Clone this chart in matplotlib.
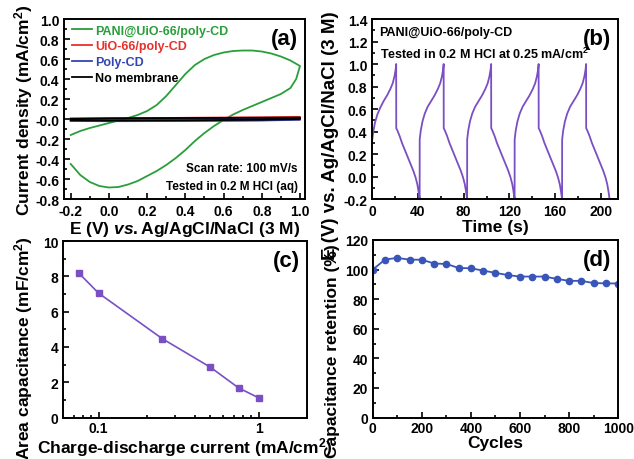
import numpy as np
import matplotlib
matplotlib.use("Agg")
import matplotlib.pyplot as plt
from matplotlib.ticker import AutoMinorLocator, FixedLocator, FixedFormatter

plt.rcParams['font.family'] = ['Liberation Sans', 'DejaVu Sans']
plt.rcParams['font.weight'] = 'bold'
plt.rcParams['axes.labelweight'] = 'bold'
plt.rcParams['axes.unicode_minus'] = False
plt.rcParams['mathtext.fontset'] = 'custom'
plt.rcParams['mathtext.rm'] = 'Liberation Sans:bold'
plt.rcParams['mathtext.bf'] = 'Liberation Sans:bold'
plt.rcParams['mathtext.it'] = 'Liberation Sans:bold:italic'

GREEN = '#2a9e3c'
RED = '#e8302a'
BLUE = '#3346b0'
PURPLE = '#7a4fc4'
DBLUE = '#3a55b8'

# (a) cyclic voltammetry, anodic sweep then cathodic sweep
cv_e = [-0.20, -0.15, -0.10, -0.05, 0.00, 0.05, 0.10, 0.15, 0.20, 0.25, 0.30, 0.35,
        0.40, 0.45, 0.50, 0.55, 0.60, 0.65, 0.70, 0.75, 0.80, 0.85, 0.90, 0.95, 1.00,
        0.98, 0.95, 0.90, 0.85, 0.80, 0.75, 0.70, 0.65, 0.60, 0.55, 0.50, 0.45, 0.40,
        0.35, 0.30, 0.25, 0.20, 0.15, 0.10, 0.05, 0.00, -0.05, -0.10, -0.15, -0.20]
cv_pani = [-0.16, -0.12, -0.09, -0.065, -0.04, -0.015, 0.01, 0.04, 0.08, 0.14, 0.23, 0.34,
           0.45, 0.54, 0.60, 0.64, 0.665, 0.68, 0.685, 0.685, 0.675, 0.655, 0.625, 0.585, 0.53,
           0.40, 0.31, 0.25, 0.21, 0.17, 0.13, 0.09, 0.045, -0.01, -0.07, -0.14, -0.22, -0.31,
           -0.39, -0.46, -0.52, -0.57, -0.62, -0.655, -0.68, -0.685, -0.67, -0.63, -0.56, -0.45]
cv_e_small = [-0.20, 0.00, 0.40, 0.80, 1.00, 1.00, 0.80, 0.40, 0.00, -0.20]
cv_uio = [0.000, 0.005, 0.012, 0.018, 0.022, -0.005, -0.012, -0.018, -0.020, -0.015]
cv_poly = [-0.005, 0.000, 0.003, 0.006, 0.008, -0.008, -0.015, -0.020, -0.022, -0.020]
cv_none = [0.005, 0.008, 0.010, 0.012, 0.014, 0.000, -0.008, -0.012, -0.015, -0.012]

# (b) galvanostatic charge-discharge
gcd_t = [0, 1, 2.5, 4.5, 7, 10, 13, 16, 18, 19.5, 20.5, 21,
         21.05, 22, 24, 26, 28, 30, 32, 34, 36, 38, 39.5, 40.5, 41.5,
         41.55, 42.5, 44, 46, 48.5, 51.5, 54.5, 57.5, 59.5, 61, 62, 62.5,
         62.55, 63.5, 65.5, 67.5, 69.5, 71.5, 73.5, 75.5, 77.5, 79.5, 81, 82, 83,
         83.05, 84, 85.5, 87.5, 90, 93, 96, 99, 101, 102.5, 103.5, 104,
         104.05, 105, 107, 109, 111, 113, 115, 117, 119, 121, 122.5, 123.5, 124.5,
         124.55, 125.5, 127, 129, 131.5, 134.5, 137.5, 140.5, 142.5, 144, 145, 145.5,
         145.55, 146.5, 148.5, 150.5, 152.5, 154.5, 156.5, 158.5, 160.5, 162.5, 164, 165, 166,
         166.05, 167, 168.5, 170.5, 173, 176, 179, 182, 184, 185.5, 186.5, 187,
         187.05, 188, 190, 192, 194, 196, 198, 200, 202, 204, 205.5, 206.5, 207.5, 215]
gcd_v = [0.32, 0.40, 0.48, 0.55, 0.61, 0.67, 0.72, 0.78, 0.83, 0.89, 0.95, 1.00,
         0.43, 0.41, 0.36, 0.30, 0.25, 0.20, 0.15, 0.10, 0.05, -0.01, -0.07, -0.13, -0.20,
         0.33, 0.41, 0.49, 0.56, 0.62, 0.67, 0.72, 0.78, 0.83, 0.89, 0.95, 1.00,
         0.43, 0.41, 0.36, 0.30, 0.25, 0.20, 0.15, 0.10, 0.05, -0.01, -0.07, -0.13, -0.20,
         0.33, 0.41, 0.49, 0.56, 0.62, 0.67, 0.72, 0.78, 0.83, 0.89, 0.95, 1.00,
         0.43, 0.41, 0.36, 0.30, 0.25, 0.20, 0.15, 0.10, 0.05, -0.01, -0.07, -0.13, -0.20,
         0.33, 0.41, 0.49, 0.56, 0.62, 0.67, 0.72, 0.78, 0.83, 0.89, 0.95, 1.00,
         0.43, 0.41, 0.36, 0.30, 0.25, 0.20, 0.15, 0.10, 0.05, -0.01, -0.07, -0.13, -0.20,
         0.33, 0.41, 0.49, 0.56, 0.62, 0.67, 0.72, 0.78, 0.83, 0.89, 0.95, 1.00,
         0.43, 0.41, 0.36, 0.30, 0.25, 0.20, 0.15, 0.10, 0.05, -0.01, -0.07, -0.13, -0.20, -0.20]

# (c) areal capacitance vs current
cur = [0.075, 0.1, 0.25, 0.5, 0.75, 1.0]
cap = [8.2, 7.05, 4.47, 2.85, 1.68, 1.12]

# (d) cycling stability
cycles = [0, 50, 100, 150, 200, 250, 300, 350, 400, 450, 500,
          550, 600, 650, 700, 750, 800, 850, 900, 950, 1000]
retention = [100, 106.8, 107.9, 106.7, 106.7, 104.1, 103.8, 101.1, 100.9, 99.3, 97.8,
             96.3, 95.3, 95.3, 95.3, 93.7, 92.4, 92.4, 90.9, 90.7, 90.6]

LABEL_FS = 12.5

fig = plt.figure(figsize=(6.34, 4.60), dpi=100)
ax_a = fig.add_axes([0.101, 0.5652, 0.380, 0.3913])
ax_b = fig.add_axes([0.587, 0.5652, 0.388, 0.3913])
ax_c = fig.add_axes([0.0994, 0.090, 0.3846, 0.3839])
ax_d = fig.add_axes([0.588, 0.090, 0.387, 0.3861])


def style(ax, minor_x=True):
    for s in ax.spines.values():
        s.set_linewidth(1.4)
    ax.tick_params(which='both', direction='in', top=False, right=False,
                   labelsize=10, width=1.2)
    ax.tick_params(which='major', length=4)
    ax.tick_params(which='minor', length=2.5)
    if minor_x:
        ax.xaxis.set_minor_locator(AutoMinorLocator(2))
    ax.yaxis.set_minor_locator(AutoMinorLocator(2))


def panel(ax, label):
    ax.text(0.97, 0.95, label, transform=ax.transAxes, ha='right', va='top',
            fontsize=16, fontweight='bold')


# (a)
ax_a.plot(cv_e, cv_pani, color=GREEN, lw=1.3, label='PANI@UiO-66/poly-CD')
ax_a.plot(cv_e_small, cv_uio, color=RED, lw=1.3, label='UiO-66/poly-CD')
ax_a.plot(cv_e_small, cv_poly, color=BLUE, lw=1.3, label='Poly-CD')
ax_a.plot(cv_e_small, cv_none, color='black', lw=1.3, label='No membrane')
ax_a.set_xlim(-0.235, 1.026)
ax_a.set_ylim(-0.8, 1.0)
ax_a.set_xticks(np.arange(-0.2, 1.01, 0.2))
ax_a.set_yticks(np.arange(-0.8, 1.01, 0.2))
ax_a.xaxis.set_major_formatter(matplotlib.ticker.FormatStrFormatter('%.1f'))
ax_a.yaxis.set_major_formatter(matplotlib.ticker.FormatStrFormatter('%.1f'))
style(ax_a)
leg = ax_a.legend(loc='upper left', frameon=False, fontsize=9, handlelength=1.6,
                  borderaxespad=0.2, labelspacing=0.3, handletextpad=0.3,
                  bbox_to_anchor=(0.0, 1.01))
for txt, c in zip(leg.get_texts(), [GREEN, RED, BLUE, 'black']):
    txt.set_color(c)
ax_a.text(0.97, 0.17, 'Scan rate: 100 mV/s', transform=ax_a.transAxes,
          ha='right', va='center', fontsize=8.5)
ax_a.text(0.97, 0.07, 'Tested in 0.2 M HCl (aq)', transform=ax_a.transAxes,
          ha='right', va='center', fontsize=8.5)
panel(ax_a, '(a)')
ax_a.set_xlabel(r'E (V) $\mathit{vs.}$Ag/AgCl/NaCl (3 M)', fontsize=LABEL_FS, labelpad=1)
ax_a.set_ylabel(r'Current density (mA/cm$^2$)', fontsize=LABEL_FS, labelpad=0)

# (b)
ax_b.plot(gcd_t, gcd_v, color=PURPLE, lw=1.3)
ax_b.set_xlim(0, 215)
ax_b.set_ylim(-0.2, 1.4)
ax_b.set_xticks(np.arange(0, 201, 40))
ax_b.set_yticks(np.arange(-0.2, 1.41, 0.2))
ax_b.yaxis.set_major_formatter(matplotlib.ticker.FormatStrFormatter('%.1f'))
style(ax_b)
ax_b.text(0.03, 0.93, 'PANI@UiO-66/poly-CD', transform=ax_b.transAxes,
          ha='left', va='center', fontsize=9)
ax_b.text(0.03, 0.81, r'Tested in 0.2 M HCl at 0.25 mA/cm$^2$', transform=ax_b.transAxes,
          ha='left', va='center', fontsize=9)
panel(ax_b, '(b)')
ax_b.set_xlabel('Time (s)', fontsize=LABEL_FS, labelpad=1)
ax_b.set_ylabel('E (V) vs. Ag/AgCl/NaCl (3 M)', fontsize=13.5)
ax_b.yaxis.set_label_coords(-0.135, 0.36)

# (c)
ax_c.plot(cur, cap, color=PURPLE, lw=1.2, marker='s', ms=4.5)
ax_c.set_xscale('log')
ax_c.set_xlim(0.06, 2.0)
ax_c.set_ylim(0, 10)
ax_c.set_yticks(np.arange(0, 11, 2))
ax_c.xaxis.set_major_locator(FixedLocator([0.1, 1]))
ax_c.xaxis.set_major_formatter(FixedFormatter(['0.1', '1']))
style(ax_c, minor_x=False)
ax_c.tick_params(axis='x', which='major', pad=2.5)
ax_c.xaxis.set_minor_formatter(matplotlib.ticker.NullFormatter())
panel(ax_c, '(c)')
ax_c.set_xlabel(r'Charge-discharge current (mA/cm$^2$)', fontsize=LABEL_FS, labelpad=0)
ax_c.set_ylabel(r'Area capacitance (mF/cm$^2$)', fontsize=LABEL_FS)
ax_c.yaxis.set_label_coords(-0.115, 0.40)

# (d)
ax_d.plot(cycles, retention, color=DBLUE, lw=1.3, marker='o', ms=4.5)
ax_d.set_xlim(0, 1000)
ax_d.set_ylim(0, 120)
ax_d.set_xticks(np.arange(0, 1001, 200))
ax_d.set_yticks(np.arange(0, 121, 20))
style(ax_d)
ax_d.tick_params(axis='x', which='major', pad=2.5)
panel(ax_d, '(d)')
ax_d.set_xlabel('Cycles', fontsize=LABEL_FS, labelpad=0)
ax_d.set_ylabel('Capacitance retention (%)', fontsize=LABEL_FS)
ax_d.yaxis.set_label_coords(-0.135, 0.38)

fig.savefig('out.png', dpi=100)
